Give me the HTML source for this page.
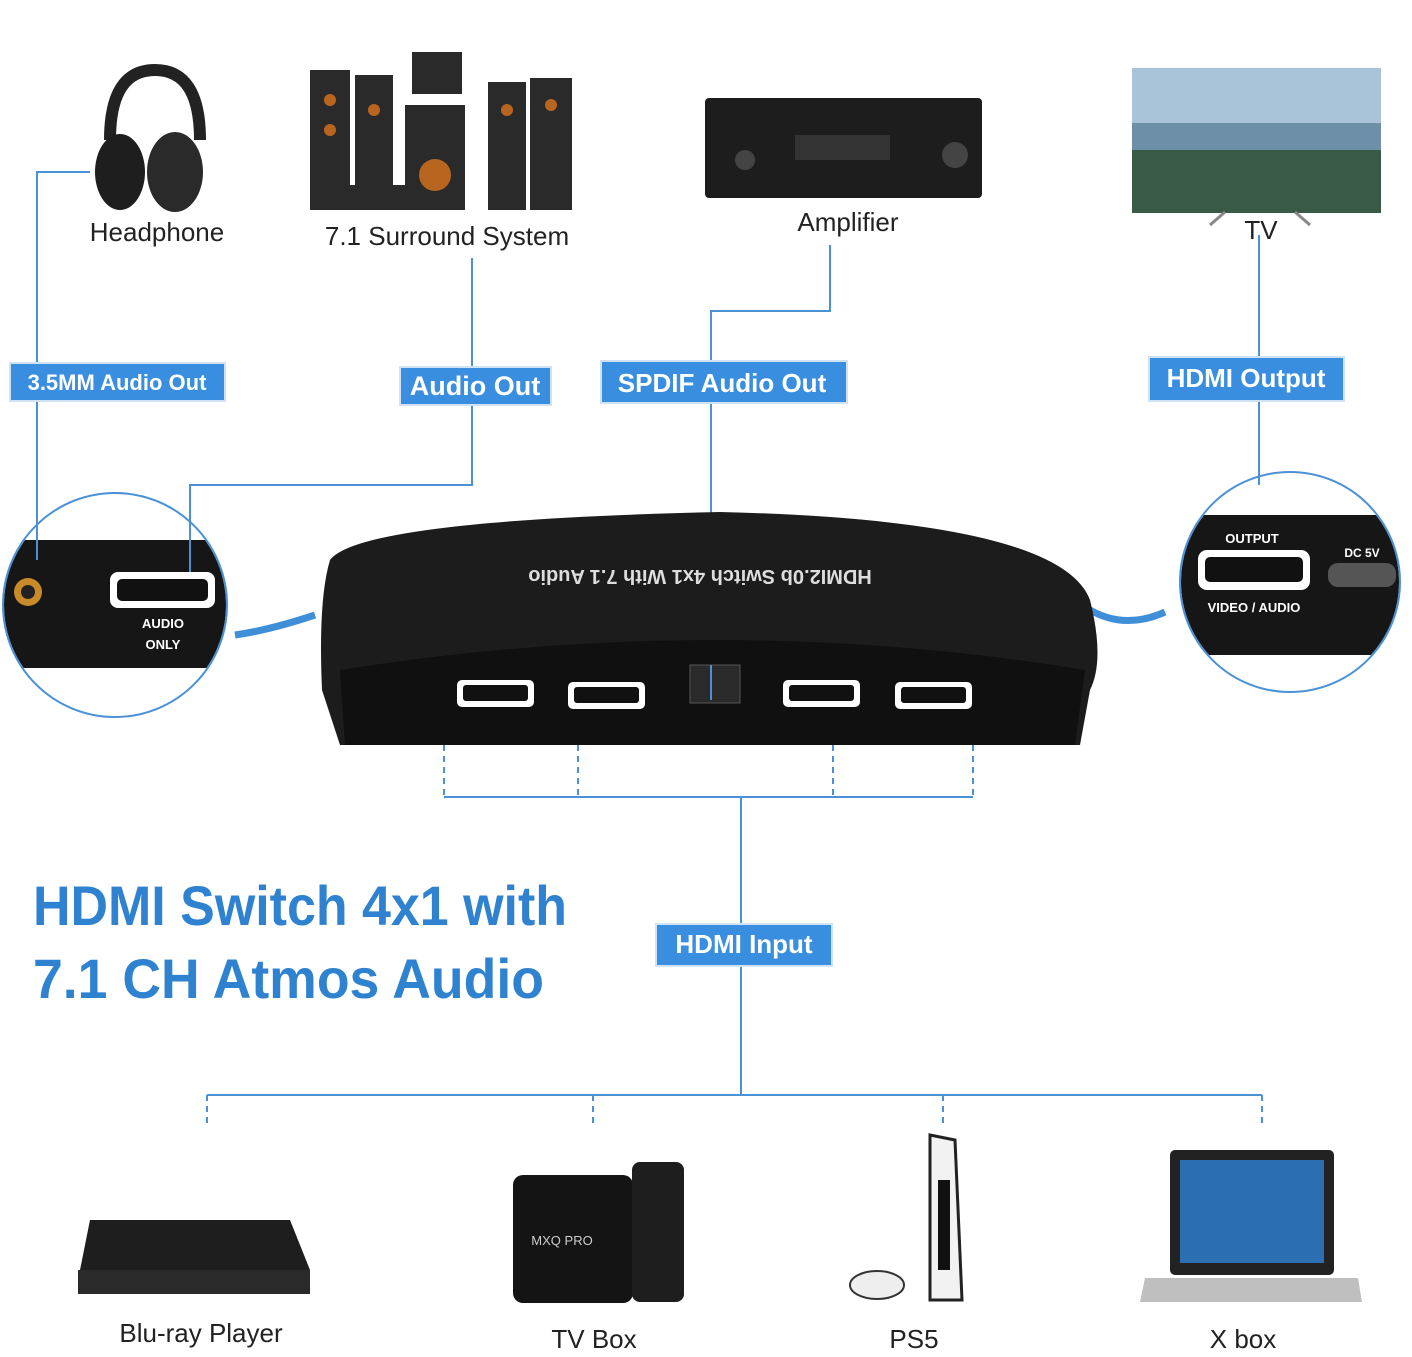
<!DOCTYPE html>
<html><head><meta charset="utf-8"><style>
html,body{margin:0;padding:0;background:#fff;}
svg{display:block;font-family:"Liberation Sans",sans-serif;}
</style></head><body>
<svg width="1412" height="1357" viewBox="0 0 1412 1357" xmlns="http://www.w3.org/2000/svg">
<defs>
<clipPath id="cl"><circle cx="115" cy="605" r="111"/></clipPath>
<clipPath id="cr"><circle cx="1290" cy="582" r="109"/></clipPath>
</defs>
<rect width="1412" height="1357" fill="#fff"/>
<!-- circle insets -->
<g clip-path="url(#cl)">
<path d="M0,540 L240,540 L240,668 L0,668 Z" fill="#161616"/>
<circle cx="28" cy="592" r="14" fill="#c98a2a"/><circle cx="28" cy="592" r="7" fill="#222"/>
<rect x="110" y="572" width="105" height="36" rx="8" fill="#fff"/><rect x="117" y="579" width="91" height="22" rx="5" fill="#111"/>
<text x="163" y="628" fill="#fff" font-size="13" font-weight="bold" text-anchor="middle">AUDIO</text>
<text x="163" y="649" fill="#fff" font-size="13" font-weight="bold" text-anchor="middle">ONLY</text>
</g>
<g clip-path="url(#cr)">
<path d="M1175,515 L1405,515 L1405,655 L1175,655 Z" fill="#161616"/>
<text x="1252" y="543" fill="#fff" font-size="13" font-weight="bold" text-anchor="middle">OUTPUT</text>
<text x="1362" y="557" fill="#fff" font-size="12" font-weight="bold" text-anchor="middle">DC 5V</text>
<rect x="1198" y="550" width="112" height="40" rx="9" fill="#fff"/><rect x="1205" y="557" width="98" height="25" rx="5" fill="#111"/>
<rect x="1328" y="563" width="68" height="24" rx="10" fill="#555"/>
<text x="1254" y="612" fill="#fff" font-size="13" font-weight="bold" text-anchor="middle">VIDEO / AUDIO</text>
</g>
<g stroke="#4a91d6" stroke-width="2" fill="none">
<polyline points="90,172 37,172 37,560"/>
<polyline points="472,258 472,485 190,485 190,572"/>
<polyline points="830,245 830,311 711,311 711,700"/>
<line x1="1259" y1="235" x2="1259" y2="485"/>
<line x1="444" y1="797" x2="973" y2="797"/>
<line x1="741" y1="797" x2="741" y2="1095"/>
<line x1="207" y1="1095" x2="1262" y2="1095"/>
<g stroke-dasharray="6,5">
<line x1="444" y1="745" x2="444" y2="797"/><line x1="578" y1="745" x2="578" y2="797"/>
<line x1="833" y1="745" x2="833" y2="797"/><line x1="973" y1="745" x2="973" y2="797"/>
<line x1="207" y1="1095" x2="207" y2="1127"/><line x1="593" y1="1095" x2="593" y2="1127"/>
<line x1="943" y1="1095" x2="943" y2="1127"/><line x1="1262" y1="1095" x2="1262" y2="1127"/>
</g>
<circle cx="115" cy="605" r="112" stroke-width="2"/>
<circle cx="1290" cy="582" r="110" stroke-width="2"/>
</g>
<path d="M235,635 Q270,630 315,615" stroke="#3f8fd8" stroke-width="7" fill="none"/>
<path d="M1090,610 Q1125,630 1165,612" stroke="#3f8fd8" stroke-width="7" fill="none"/>
<!-- device -->
<path d="M330,560 Q360,520 720,512 Q1060,520 1090,600 Q1105,660 1090,690 L1080,745 L340,745 L322,690 Q318,600 330,560 Z" fill="#1c1c1c"/>
<path d="M340,670 Q720,610 1085,670 L1075,745 L345,745 Z" fill="#101010"/>
<text x="700" y="580" fill="#ddd" font-size="20" font-weight="bold" text-anchor="middle" transform="rotate(180 700 575)">HDMI2.0b Switch 4x1 With 7.1 Audio</text>
<g fill="#fff"><rect x="457" y="680" width="77" height="27" rx="5"/><rect x="568" y="682" width="77" height="27" rx="5"/><rect x="783" y="680" width="77" height="27" rx="5"/><rect x="895" y="682" width="77" height="27" rx="5"/></g>
<g fill="#111"><rect x="463" y="685" width="65" height="16" rx="3"/><rect x="574" y="687" width="65" height="16" rx="3"/><rect x="789" y="685" width="65" height="16" rx="3"/><rect x="901" y="687" width="65" height="16" rx="3"/></g>
<rect x="690" y="665" width="50" height="38" fill="#2a2a2a" stroke="#555"/>
<line x1="711" y1="665" x2="711" y2="700" stroke="#4a91d6" stroke-width="2"/>
<!-- top devices -->
<path d="M110,140 Q110,70 155,70 Q200,70 200,140" stroke="#222" stroke-width="12" fill="none"/>
<ellipse cx="120" cy="172" rx="25" ry="38" fill="#1e1e1e"/><ellipse cx="175" cy="172" rx="28" ry="40" fill="#2a2a2a"/>
<g fill="#2a2a2a"><rect x="310" y="70" width="40" height="140"/><rect x="355" y="75" width="38" height="135"/><rect x="405" y="105" width="60" height="105"/><rect x="488" y="82" width="38" height="128"/><rect x="530" y="78" width="42" height="132"/><rect x="345" y="185" width="72" height="25"/><rect x="412" y="52" width="50" height="42"/></g>
<g fill="#b8651f"><circle cx="330" cy="100" r="6"/><circle cx="330" cy="130" r="6"/><circle cx="374" cy="110" r="6"/><circle cx="435" cy="175" r="16"/><circle cx="507" cy="110" r="6"/><circle cx="551" cy="105" r="6"/></g>
<rect x="705" y="98" width="277" height="100" rx="4" fill="#1d1d1d"/><rect x="795" y="135" width="95" height="25" fill="#333"/>
<circle cx="745" cy="160" r="10" fill="#444"/><circle cx="955" cy="155" r="13" fill="#444"/>
<rect x="1132" y="68" width="249" height="145" fill="#6d8fa8"/><rect x="1132" y="68" width="249" height="55" fill="#a9c3d9"/><rect x="1132" y="150" width="249" height="63" fill="#3a5a48"/>
<path d="M1210,225 L1225,212 M1310,225 L1295,212" stroke="#888" stroke-width="3"/>
<!-- bottom devices -->
<path d="M90,1220 L290,1220 L310,1270 L80,1270 Z" fill="#1e1e1e"/><rect x="78" y="1270" width="232" height="24" fill="#2a2a2a"/>
<rect x="513" y="1175" width="120" height="128" rx="10" fill="#141414"/>
<text x="562" y="1245" fill="#ccc" font-size="13" text-anchor="middle">MXQ PRO</text>
<rect x="632" y="1162" width="52" height="140" rx="8" fill="#1e1e1e"/>
<path d="M930,1135 L955,1140 L962,1300 L930,1300 Z" fill="#f2f2f2" stroke="#222" stroke-width="3"/>
<rect x="938" y="1180" width="12" height="90" fill="#111"/>
<ellipse cx="877" cy="1285" rx="27" ry="14" fill="#eee" stroke="#333" stroke-width="2"/>
<rect x="1170" y="1150" width="164" height="125" rx="5" fill="#222"/><rect x="1180" y="1160" width="144" height="103" fill="#2b6fb2"/>
<path d="M1145,1278 L1358,1278 L1362,1302 L1140,1302 Z" fill="#bfbfbf"/>
<!-- labels -->
<g font-size="26" fill="#222" text-anchor="middle">
<text x="157" y="241">Headphone</text><text x="447" y="245">7.1 Surround System</text>
<text x="848" y="231">Amplifier</text><text x="1261" y="239">TV</text>
<text x="201" y="1342">Blu-ray Player</text><text x="594" y="1348">TV Box</text>
<text x="914" y="1348">PS5</text><text x="1243" y="1348">X box</text>
</g>
<g fill="#3a8ee0" stroke="#cfe2f6" stroke-width="2">
<rect x="10" y="363" width="215" height="38"/><rect x="400" y="367" width="151" height="38"/>
<rect x="601" y="361" width="246" height="42"/><rect x="1149" y="357" width="195" height="44"/>
<rect x="656" y="924" width="176" height="42"/>
</g>
<g fill="#fff" font-weight="bold" text-anchor="middle">
<text x="117" y="390" font-size="22">3.5MM Audio Out</text><text x="475" y="395" font-size="27">Audio Out</text>
<text x="722" y="392" font-size="26">SPDIF Audio Out</text><text x="1246" y="387" font-size="26">HDMI Output</text>
<text x="744" y="953" font-size="26">HDMI Input</text>
</g>
<g fill="#2f82cf" font-size="56" font-weight="bold">
<text x="33" y="925" textLength="534" lengthAdjust="spacingAndGlyphs">HDMI Switch 4x1 with</text>
<text x="33" y="998" textLength="511" lengthAdjust="spacingAndGlyphs">7.1 CH Atmos Audio</text>
</g>
</svg>
</body></html>
